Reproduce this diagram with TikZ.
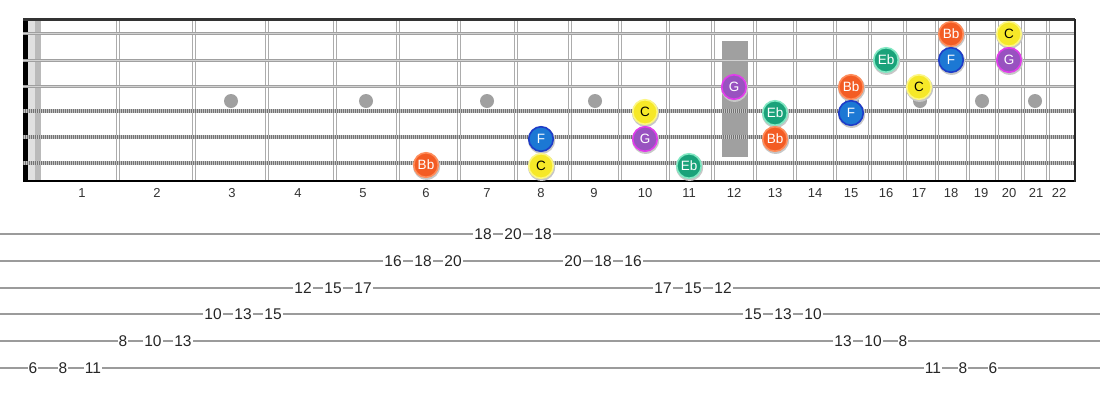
\documentclass[tikz,border=0pt]{standalone}
\usepackage{fontspec}
\setmainfont{Liberation Sans}
\definecolor{fretgray}{RGB}{172,172,172}
\definecolor{markgray}{RGB}{160,160,160}
\definecolor{strgray}{RGB}{160,160,160}
\definecolor{strlight}{RGB}{210,210,210}
\definecolor{woundbase}{RGB}{195,195,195}
\definecolor{wounddark}{RGB}{115,115,115}
\definecolor{tabgray}{RGB}{155,155,155}
\definecolor{bbfill}{RGB}{243,92,36}
\definecolor{bbring}{RGB}{255,140,90}
\definecolor{cfill}{RGB}{246,232,40}
\definecolor{cring}{RGB}{252,246,130}
\definecolor{ffill}{RGB}{28,120,212}
\definecolor{fring}{RGB}{30,60,200}
\definecolor{gfill}{RGB}{152,82,192}
\definecolor{gring}{RGB}{225,60,235}
\definecolor{ebfill}{RGB}{26,162,122}
\definecolor{ebring}{RGB}{130,232,195}
\begin{document}
\begin{tikzpicture}[x=1pt,y=-1pt,
  fretline/.style={line width=4.6pt,fretgray},
  fretgap/.style={line width=1.7pt,white},
  plainstr/.style={line width=3pt,strgray},
  plainmid/.style={line width=1pt,strlight},
  woundstr/.style={line width=4.4pt,woundbase},
  woundpat/.style={line width=3.4pt,wounddark,dash pattern=on 1pt off 1pt},
  fretnum/.style={font=\fontsize{13}{13}\selectfont,text=black!80,inner sep=0pt},
  tabnum/.style={font=\fontsize{15.5}{15.5}\selectfont,text=black!85,fill=white,inner sep=1pt},
  tabline/.style={line width=2pt,tabgray},
  notebox/.style={circle,minimum size=24.5pt,inner sep=0pt,line width=1.6pt,font=\fontsize{13.5}{13.5}\selectfont},
  Bb/.style={notebox,fill=bbfill,draw=bbring,text=white},
  C/.style={notebox,fill=cfill,draw=cring,text=black},
  F/.style={notebox,fill=ffill,draw=fring,text=white},
  G/.style={notebox,fill=gfill,draw=gring,text=white},
  Eb/.style={notebox,fill=ebfill,draw=ebring,text=white}
]
\useasboundingbox (0,0) rectangle (1100,400);
\fill[white] (0,0) rectangle (1100,400);

% fretboard background strip near nut
\fill[black!12] (28,19) rectangle (35,181);
\fill[black!27] (35,19) rectangle (41,181);

% frets
\foreach \f in {118,194,267,335,398,459,516,570,620,668,713,755,795,835,870,905,937,968,997,1023,1048} {
  \draw[fretline] (\f,19) -- (\f,181);
  \draw[fretgap] (\f,19) -- (\f,181);
}

% inlays
\fill[markgray] (722,41) rectangle (748,157);
\foreach \x in {231,366,487,595,852,920,982,1035} {
  \fill[markgray] (\x,101) circle (7);
}

% nut
\fill[black] (23,19) rectangle (27.5,181);

% strings
\foreach \y in {33,60,86} {
  \draw[plainstr] (23,\y) -- (1075,\y);
  \draw[plainmid] (23,\y) -- (1075,\y);
}
\foreach \y in {111,137,163} {
  \draw[woundstr] (23,\y) -- (1075,\y);
  \draw[woundpat] (23,\y) -- (1075,\y);
}

% borders
\draw[line width=2.2pt,black!80] (23,19.5) -- (1075,19.5);
\draw[line width=2.2pt,black] (23,181) -- (1076,181);
\draw[line width=2.2pt,black!85] (1075,19) -- (1075,182);

% fret numbers
\foreach \n/\x in {1/82,2/157,3/232,4/298,5/363,6/426,7/487,8/541,9/594,10/645,11/689,12/734,13/775,14/815,15/851,16/886,17/919,18/951,19/981,20/1009,21/1036,22/1059} {
  \node[fretnum] (fl\n) at (\x,193) {\n};
}

% notes (with soft shadow)
\foreach \i/\x/\y/\s/\t in {
  1/951/34/Bb/Bb, 2/1009/34/C/C,
  3/886/60/Eb/Eb, 4/951/60/F/F, 5/1009/60/G/G,
  6/734/87/G/G, 7/851/87/Bb/Bb, 8/919/87/C/C,
  9/645/112/C/C, 10/775/113/Eb/Eb, 11/851/113/F/F,
  12/541/139/F/F, 13/645/139/G/G, 14/775/139/Bb/Bb,
  15/426/165/Bb/Bb, 16/541/166/C/C, 17/689/166/Eb/Eb} {
  \fill[black!22] (\x+0.6,\y+1.4) circle (13.5);
  \node[\s] (note\i) at (\x,\y) {\t};
}

% tab staff
\foreach \y in {234,261,288,314,341,368} {
  \draw[tabline] (0,\y) -- (1100,\y);
}
\foreach \k/\y/\t in {
  0/368/6,1/368/8,2/368/11,
  3/341/8,4/341/10,5/341/13,
  6/314/10,7/314/13,8/314/15,
  9/288/12,10/288/15,11/288/17,
  12/261/16,13/261/18,14/261/20,
  15/234/18,16/234/20,17/234/18,
  18/261/20,19/261/18,20/261/16,
  21/288/17,22/288/15,23/288/12,
  24/314/15,25/314/13,26/314/10,
  27/341/13,28/341/10,29/341/8,
  30/368/11,31/368/8,32/368/6} {
  \node[tabnum] (tab\k) at ({33+30*\k},\y) {\t};
}
\end{tikzpicture}
\end{document}
